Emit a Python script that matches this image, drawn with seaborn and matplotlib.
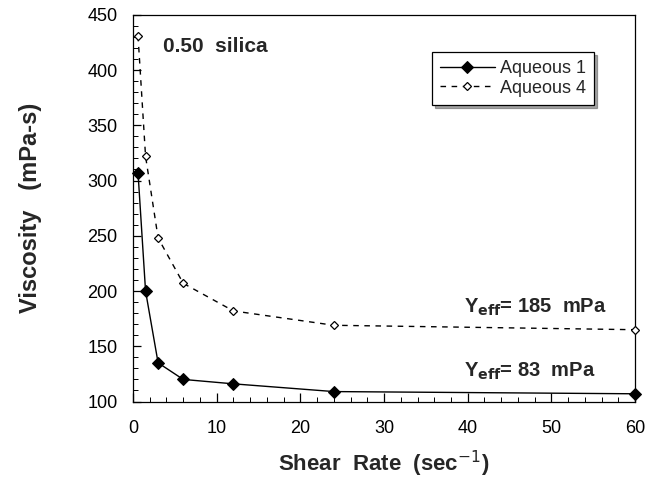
import matplotlib
matplotlib.use("Agg")
import matplotlib.pyplot as plt
import seaborn as sns
import pandas as pd
from matplotlib.ticker import MultipleLocator

shear_rate = [0.6, 1.5, 3, 6, 12, 24, 60]
aqueous1 = [307, 200, 135, 120, 116, 109, 107]
aqueous4 = [431, 322, 248, 207, 182, 169, 165]
series_names = ["Aqueous 1", "Aqueous 4"]

sns.set_theme(style="ticks")
plt.rcParams["font.family"] = ["Liberation Sans", "DejaVu Sans"]
plt.rcParams.update({
    "xtick.direction": "in", "ytick.direction": "in",
    "xtick.bottom": True, "ytick.left": True,
    "xtick.top": False, "ytick.right": False,
    "xtick.major.size": 6.5, "ytick.major.size": 6,
    "xtick.minor.size": 3.5, "ytick.minor.size": 3.5,
    "xtick.major.width": 0.9, "ytick.major.width": 0.9,
    "xtick.minor.width": 0.7, "ytick.minor.width": 0.7,
    "xtick.color": "black", "ytick.color": "black",
    "xtick.labelsize": 13, "ytick.labelsize": 13,
    "xtick.major.pad": 13, "ytick.major.pad": 11,
})

fig = plt.figure(figsize=(6.65, 4.78), dpi=100)
ax = fig.add_axes([0.2, 0.16, 0.755, 0.809])
ax.set_axisbelow(False)

df1 = pd.DataFrame({"x": shear_rate, "y": aqueous1})
df4 = pd.DataFrame({"x": shear_rate, "y": aqueous4})

sns.lineplot(data=df1, x="x", y="y", ax=ax, color="black", lw=1.0,
             marker="D", markersize=6.5, markerfacecolor="black",
             markeredgecolor="black", label=series_names[0], clip_on=False, zorder=5)
sns.lineplot(data=df4, x="x", y="y", ax=ax, color="black", lw=1.0,
             linestyle=(0, (4, 4)), marker="D", markersize=4.5,
             markerfacecolor="white", markeredgecolor="black",
             markeredgewidth=0.9, label=series_names[1], clip_on=False, zorder=5)

ax.set_xlim(0, 60)
ax.set_ylim(100, 450)
ax.xaxis.set_major_locator(MultipleLocator(10))
ax.xaxis.set_minor_locator(MultipleLocator(2))
ax.yaxis.set_major_locator(MultipleLocator(50))
ax.yaxis.set_minor_locator(MultipleLocator(10))
for s in ax.spines.values():
    s.set_color("black")
    s.set_linewidth(0.9)

ax.set_xlabel("Shear  Rate  (sec$^{-1}$)", fontsize=16, fontweight="bold", labelpad=9)
ax.set_ylabel("Viscosity   (mPa-s)", fontsize=17, fontweight="bold", labelpad=33)

ax.text(3.6, 421, "0.50  silica", fontsize=15, fontweight="bold", va="center")
ax.text(39.6, 185, "Y$_{\\mathbf{eff}}$= 185  mPa", fontsize=14.5, fontweight="bold", va="center")
ax.text(39.6, 127, "Y$_{\\mathbf{eff}}$= 83  mPa", fontsize=14.5, fontweight="bold", va="center")

leg = ax.legend(loc="upper left", bbox_to_anchor=(0.596, 0.904), fontsize=13,
                frameon=True, fancybox=False, shadow=True, handlelength=3.0,
                borderpad=0.45, labelspacing=0.15, handletextpad=0.3,
                borderaxespad=0)
leg.get_frame().set_edgecolor("black")
leg.get_frame().set_linewidth(0.9)

fig.savefig("out.png", dpi=100)
